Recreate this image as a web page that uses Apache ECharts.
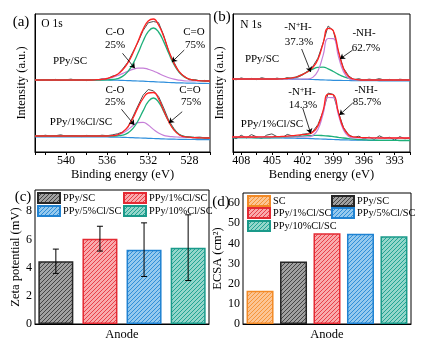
<!DOCTYPE html>
<html><head><meta charset="utf-8">
<script src="https://cdn.jsdelivr.net/npm/echarts@6/dist/echarts.min.js"></script>
<style>html,body{margin:0;padding:0;background:#fff}#c{width:422px;height:343px}</style>
</head><body><div id="c"></div>
<script>
const SERIF = 'Liberation Serif';

// ---------- Panel (a) O 1s ----------
const eV_a = [543,542.5,542,541.5,541,540.5,540,539.5,539,538.5,538,537.5,537,536.5,536,535.5,535,534.5,534,533.5,533,532.5,532,531.5,531,530.5,530,529.5,529,528.5,528,527.5,527,526.5,526];
const aTopData = [72.4,71.6,72.3,71.8,72.6,71.5,72.2,72.9,71.7,72.3,71.4,72.5,72.1,73.2,73.0,75.8,77.2,82.9,89.6,99.8,109.6,121.4,129.2,130.5,129.4,116.8,100.2,89.9,79.6,75.9,72.1,72.4,71.2,71.6,70.8];
const aTopFit  = [72,72,72,72,72,72,72,72,72,72,72,72,72.3,72.7,73.5,75.1,77.7,82,88.8,98.5,110.5,122.6,131,133,127,115.5,101,88.6,80.5,75.4,72.8,71.8,71.3,71,71];
const aTopCO   = [72,72,72,72,72,72,72,72,72,72,72,72,72.3,72.7,73.4,74.6,76.3,78.4,80.6,82.6,83.8,83.9,82.7,81,78.6,76.3,74.3,72.8,71.8,71.2,71,71,71,71,71];
const aTopCdO  = [72,72,72,72,72,72,72,72,72,72,72,72,72,72,72.1,72.5,73.4,75.6,80.2,87.9,98.7,110.7,120.3,124,120,110.4,98.4,87.5,79.7,75,72.8,71.8,71.3,71,71];
const aTopBase = [72,72,72,72,72,72,72,72,72,72,72,72,72,72,72,71.9,71.8,71.6,71.4,71.2,71,70.8,70.5,70.3,70,69.8,69.5,69.3,69.1,69,68.9,68.8,68.7,68.6,68.5];
const aBotData = [16.4,15.6,16.8,15.9,16.3,17.2,15.8,16.5,16.1,15.4,16.6,16.2,15.9,16.8,16.3,17.1,18.2,19.9,24.2,35.1,46.2,56.8,62.5,61.2,55.6,44.1,31.5,23.4,17.2,15.6,15.1,14.6,14.9,14.2,14.5];
const aBotFit  = [16,16,16,16,16,16,16,16,16,16,16,16,16,16,16,16.3,17.2,19.7,24.9,33.5,44.4,53.5,59,59.5,53.2,41.4,30.3,22,17.2,15.3,14.8,14.4,14.2,14,14];
const aBotCO   = [16,16,16,16,16,16,16,16,16,16,16,16,16,16,16,16.3,17,18.8,22,26.2,29.4,29.7,27,22.6,18.9,16.6,15.6,15.2,14.9,14.6,14.4,14.2,14.1,14,14];
const aBotCdO  = [16,16,16,16,16,16,16,16,16,16,16,16,16,16,16,16,16.2,16.9,18.9,23.3,31,41.1,50.3,54,50,40.6,30.5,22.5,17.8,15.6,14.8,14.4,14.2,14,14];
const aBotBase = [15,15,15,15,15,15,15,15,15,15,15,15,15,15,15,14.9,14.8,14.7,14.5,14.3,14.1,13.9,13.7,13.5,13.3,13.1,12.9,12.8,12.7,12.6,12.5,12.5,12.4,12.4,12.3];

// ---------- Panel (b) N 1s ----------
const eV_b = [409,408.5,408,407.5,407,406.5,406,405.5,405,404.5,404,403.5,403,402.5,402,401.5,401,400.5,400,399.5,399,398.5,398,397.5,397,396.5,396,395.5,395,394.5,394,393.5,393,392.5,392,391.5];
const bTopData = [73.5,72.2,74.1,72.8,73.6,72.4,74.3,73.1,72.6,73.9,72.8,74.4,73.2,74.6,77.1,80.9,85.6,93.8,108.9,126,121.4,100.3,83.9,76.2,72.4,73.3,71.8,72.9,72.1,73.4,71.9,72.6,71.5,72.8,72.2,71.6];
const bTopFit  = [73,73,73,73,73,73,73,73,73,73,73.2,73.5,74.2,75.5,77.6,80.3,84.5,92.5,108.2,123.7,121.3,101.2,83.3,75.4,73,72.2,72,72,72,72,72,72,72,72,72,72];
const bTopNH   = [73,73,73,73,73,73,73,73,73,73,73,73,73,73,73,73,74.6,80.9,96.4,113.5,113.3,95.8,80.2,73.8,72.3,72,72,72,72,72,72,72,72,72,72,72];
const bTopNpH  = [73,73,73,73,73,73,73,73,73,73,73.2,73.5,74.2,75.5,77.6,80.3,82.9,84.6,84.8,83.2,80.5,77.7,75.3,73.6,72.7,72.2,72,72,72,72,72,72,72,72,72,72];
const bTopBase = [73,73,73,73,73,73,73,73,73,73,73,73,72.9,72.8,72.7,72.6,72.5,72.3,72.1,71.9,71.7,71.6,71.5,71.5,71.4,71.4,71.3,71.3,71.3,71.2,71.2,71.2,71.2,71.1,71.1,71.1];
const bBotData = [15.5,13.2,16.8,14.1,17.4,15.2,13.6,16.9,18.1,15.4,14.2,17.6,16.1,15.3,17.8,18.4,20.5,27.4,40.3,58.9,57.6,39.8,24.6,17.3,14.6,15.8,13.1,14.9,12.6,16.2,13.8,14.7,11.9,15.4,13.2,14.1];
const bBotFit  = [15,15,15,15,15,15,15.1,15.1,15.2,15.4,15.6,15.9,16.3,16.8,17.3,17.8,19.7,26.1,41.1,57.8,57.2,39.6,23.9,17,15.1,14.6,14.4,14.2,14.1,14,14,14,14,14,14,14];
const bBotNH   = [15,15,15,15,15,15,15,15,15,15,15,15,15,15,15,15,16.5,22.6,37.6,54.5,54.3,37.2,22,15.6,14.1,14,14,14,14,14,14,14,14,14,14,14];
const bBotNpH  = [14.3,14.3,14.3,14.3,14.3,14.2,14.25,14.2,14.3,14.35,14.6,14.8,15.1,15.5,15.9,16.3,16.5,16.6,16.4,16,15.4,14.7,14,13.4,12.9,12.4,12.2,11.9,11.8,11.7,11.6,11.6,11.6,11.5,11.5,11.5];
const bBotBase = [14.3,14.3,14.3,14.3,14.3,14.2,14.2,14.1,14.1,14,14,13.9,13.8,13.7,13.6,13.5,13.3,13.1,12.9,12.7,12.5,12.3,12.1,12,11.9,11.8,11.8,11.7,11.7,11.7,11.6,11.6,11.6,11.5,11.5,11.5];

// ---------- Panel (c) Zeta potential ----------
const zetaCategory = ['Anode'];
const zetaNames = ['PPy/SC','PPy/1%Cl/SC','PPy/5%Cl/SC','PPy/10%Cl/SC'];
const zetaMean = [4.45, 6.05, 5.27, 5.41];
const zetaErr  = [0.86, 0.88, 1.9, 2.33];
const zetaTicks = [0,2,4,6,8];

// ---------- Panel (d) ECSA ----------
const ecsaCategory = ['Anode'];
const ecsaNames = ['SC','PPy/SC','PPy/1%Cl/SC','PPy/5%Cl/SC','PPy/10%Cl/SC'];
const ecsaVal = [16.5, 31, 45, 44.8, 43.5];
const ecsaTicks = [0,10,20,30,40,50,60];

const aTickLabels = [540,536,532,528];
const bTickLabels = [408,405,402,399,396,393];

// ---------- styles ----------
const C_DATA='#505050', C_FIT='#ff2222', C_GREEN='#1eb07a', C_PURPLE='#c67fd8', C_BLUE='#2f8fdc';
const BAR_STYLE = {
  'SC':          {bg:'#fcc594', fg:'#f5953a', bd:'#f28a26'},
  'PPy/SC':      {bg:'#a0a0a0', fg:'#444444', bd:'#262626'},
  'PPy/1%Cl/SC': {bg:'#f9aaac', fg:'#e8404a', bd:'#e42a33'},
  'PPy/5%Cl/SC': {bg:'#95c9ee', fg:'#2f8fd8', bd:'#1f82d2'},
  'PPy/10%Cl/SC':{bg:'#94d6ca', fg:'#22a494', bd:'#1a9a8a'}
};
function hatch(bg, fg){
  const c=document.createElement('canvas'); c.width=4; c.height=4;
  const g=c.getContext('2d'); g.fillStyle=bg; g.fillRect(0,0,4,4);
  g.fillStyle=fg;
  for(let x=0;x<4;x++){ g.fillRect(x,3-x,1,1); }
  return {image:c, repeat:'repeat'};
}
function pairs(xs, ys){ return xs.map((x,i)=>[x, ys[i]]); }
function line(ax, xs, ys, color, width, smooth, extra){
  return Object.assign({type:'line', xAxisIndex:ax, yAxisIndex:ax, data:pairs(xs,ys), showSymbol:false,
    smooth:smooth, lineStyle:{color:color, width:width}, itemStyle:{color:color}, silent:true, animation:false}, extra||{});
}
function arrows(list){
  return {silent:true, symbol:['none','arrow'], symbolSize:5, label:{show:false},
    lineStyle:{color:'#000', width:0.8, type:'solid'}, animation:false,
    data:list.map(p=>[{coord:p[0]},{coord:p[1]}])};
}
const labelFmt = (arr)=> (v)=> arr.some(t=>Math.abs(t-v)<1e-6) ? String(v) : '';
const axTxt = {fontFamily:SERIF, fontSize:12, color:'#000'};
const nameTxt = {fontFamily:SERIF, fontSize:12.5, color:'#000'};
const blackLine = {lineStyle:{color:'#000', width:1}};

const series = [];
// a
series.push(line(0, eV_a, aTopData, C_DATA, 1, false, {markLine: arrows([[[534.5,98.7],[533.3,83.7]],[[528.5,102],[529.7,90]]])}));
series.push(line(0, eV_a, aTopBase, C_BLUE, 1.2, true));
series.push(line(0, eV_a, aTopCO, C_PURPLE, 1.2, true));
series.push(line(0, eV_a, aTopCdO, C_GREEN, 1.3, true));
series.push(line(0, eV_a, aTopFit, C_FIT, 1.3, true));
series.push(line(0, eV_a, aBotData, C_DATA, 1, false, {markLine: arrows([[[534.6,42.7],[533.35,27]],[[528.7,40.3],[530.0,29]]])}));
series.push(line(0, eV_a, aBotBase, C_BLUE, 1.2, true));
series.push(line(0, eV_a, aBotCO, C_PURPLE, 1.2, true));
series.push(line(0, eV_a, aBotCdO, C_GREEN, 1.3, true));
series.push(line(0, eV_a, aBotFit, C_FIT, 1.3, true));
// b
series.push(line(1, eV_b, bTopData, C_DATA, 1, false, {markLine: arrows([[[402.09,103],[401.2,80]],[[397.1,102],[398.35,93]]])}));
series.push(line(1, eV_b, bTopBase, C_BLUE, 1.2, true));
series.push(line(1, eV_b, bTopNpH, C_GREEN, 1.3, true));
series.push(line(1, eV_b, bTopNH, C_PURPLE, 1.2, true));
series.push(line(1, eV_b, bTopFit, C_FIT, 1.3, true));
series.push(line(1, eV_b, bBotData, C_DATA, 1, false, {markLine: arrows([[[401.99,44],[401.2,18.5]],[[397.1,49],[398.4,37]]])}));
series.push(line(1, eV_b, bBotBase, C_BLUE, 1.2, true));
series.push(line(1, eV_b, bBotNpH, C_GREEN, 1.3, true));
series.push(line(1, eV_b, bBotNH, C_PURPLE, 1.2, true));
series.push(line(1, eV_b, bBotFit, C_FIT, 1.3, true));

// c bars
const C_BW = 35, C_GAP = 0.26;
zetaNames.forEach((n,i)=>{
  const s = BAR_STYLE[n];
  series.push({type:'bar', name:n, xAxisIndex:2, yAxisIndex:2, data:[zetaMean[i]], barWidth:C_BW, barGap:(C_GAP*100)+'%',
    itemStyle:{color:hatch(s.bg,s.fg), borderColor:s.bd, borderWidth:1.5}, silent:true, animation:false});
});
series.push({type:'custom', xAxisIndex:2, yAxisIndex:2, silent:true, animation:false, z:10,
  encode:{x:0, y:[1,2]},
  data: zetaMean.map((m,i)=>[0, m-zetaErr[i], m+zetaErr[i], i]),
  renderItem:(params, api)=>{
    const i = api.value(3);
    const lo = api.coord([0, api.value(1)]), hi = api.coord([0, api.value(2)]);
    const x = lo[0] + (i-1.5)*(C_BW*(1+C_GAP));
    const st = {stroke:'#000', lineWidth:1};
    return {type:'group', children:[
      {type:'line', shape:{x1:x,y1:lo[1],x2:x,y2:hi[1]}, style:st},
      {type:'line', shape:{x1:x-3,y1:lo[1],x2:x+3,y2:lo[1]}, style:st},
      {type:'line', shape:{x1:x-3,y1:hi[1],x2:x+3,y2:hi[1]}, style:st}
    ]};
  }});
// d bars
ecsaNames.forEach((n,i)=>{
  const s = BAR_STYLE[n];
  series.push({type:'bar', name:n, xAxisIndex:3, yAxisIndex:3, data:[ecsaVal[i]], barWidth:27, barGap:'24%',
    itemStyle:{color:hatch(s.bg,s.fg), borderColor:s.bd, borderWidth:1.5}, silent:true, animation:false});
});

function legend(name, left, top){
  return {data:[name], left:left, top:top, padding:0, itemWidth:22, itemHeight:10, icon:'rect', selectedMode:false,
    itemGap:0, textStyle:{fontFamily:SERIF, fontSize:10.3, color:'#000', padding:[0,0,0,-2]}};
}

const txt = (t, x, y, size, extra)=>({type:'text', x:x, y:y, silent:true,
  style:Object.assign({text:t, fontFamily:SERIF, fontSize:size||11, fill:'#000', align:'center', verticalAlign:'middle'}, extra||{})});
const supRich = {rich:{s:{fontSize:7.5, fontFamily:SERIF, verticalAlign:'top', lineHeight:8}}};

const option = {
  animation:false,
  grid:[
    {left:35, top:14, width:175, height:138, show:true, borderColor:'#000', borderWidth:1},
    {left:233, top:14, width:177, height:138, show:true, borderColor:'#000', borderWidth:1},
    {left:35, top:190, width:174, height:134, show:true, borderColor:'#000', borderWidth:1},
    {left:243, top:193, width:168, height:131, show:true, borderColor:'#000', borderWidth:1}
  ],
  xAxis:[
    {gridIndex:0, type:'value', inverse:true, min:526, max:543, interval:2, axisLine:blackLine,
     axisTick:{length:3, lineStyle:{color:'#000'}}, splitLine:{show:false},
     axisLabel:Object.assign({margin:3, formatter:labelFmt(aTickLabels)}, axTxt),
     name:'Binding energy (eV)', nameLocation:'middle', nameGap:14, nameTextStyle:nameTxt},
    {gridIndex:1, type:'value', inverse:true, min:391.5, max:408.8, interval:1.5, axisLine:blackLine,
     axisTick:{length:3, lineStyle:{color:'#000'}}, splitLine:{show:false},
     axisLabel:Object.assign({margin:3, formatter:labelFmt(bTickLabels)}, axTxt),
     name:'Bending energy (eV)', nameLocation:'middle', nameGap:14, nameTextStyle:nameTxt},
    {gridIndex:2, type:'category', data:zetaCategory, axisLine:blackLine, axisTick:{show:false},
     axisLabel:Object.assign({margin:4}, nameTxt)},
    {gridIndex:3, type:'category', data:ecsaCategory, axisLine:blackLine, axisTick:{show:false},
     axisLabel:Object.assign({margin:4}, nameTxt)}
  ],
  yAxis:[
    {gridIndex:0, type:'value', min:0, max:138, axisLine:blackLine, axisTick:{show:false}, axisLabel:{show:false}, splitLine:{show:false},
     name:'Intensity (a.u.)', nameLocation:'middle', nameGap:7, nameTextStyle:nameTxt},
    {gridIndex:1, type:'value', min:0, max:138, axisLine:blackLine, axisTick:{show:false}, axisLabel:{show:false}, splitLine:{show:false},
     name:'Intensity (a.u.)', nameLocation:'middle', nameGap:7, nameTextStyle:nameTxt},
    {gridIndex:2, type:'value', min:0, max:9.5, interval:2, axisLine:blackLine, axisTick:{length:3, lineStyle:{color:'#000'}}, splitLine:{show:false},
     axisLabel:Object.assign({margin:3, formatter:labelFmt(zetaTicks)}, axTxt),
     name:'Zeta potential (mV)', nameLocation:'middle', nameGap:9, nameTextStyle:nameTxt},
    {gridIndex:3, type:'value', min:0, max:65, interval:10, axisLine:blackLine, axisTick:{length:3, lineStyle:{color:'#000'}}, splitLine:{show:false},
     axisLabel:Object.assign({margin:3, formatter:labelFmt(ecsaTicks)}, axTxt),
     name:'ECSA (cm²)', nameLocation:'middle', nameGap:12, nameTextStyle:nameTxt}
  ],
  legend:[
    legend('PPy/SC', 37, 192), legend('PPy/1%Cl/SC', 123, 192),
    legend('PPy/5%Cl/SC', 37, 205), legend('PPy/10%Cl/SC', 123, 205),
    legend('SC', 247, 195), legend('PPy/SC', 331, 195),
    legend('PPy/1%Cl/SC', 247, 207), legend('PPy/5%Cl/SC', 331, 207),
    legend('PPy/10%Cl/SC', 247, 220)
  ],
  graphic:[
    txt('(a)', 21, 22, 15), txt('(b)', 222, 17, 15), txt('(c)', 23, 197, 15), txt('(d)', 221, 202, 15),
    txt('O 1s', 52, 24, 11.5), txt('C-O', 115, 32), txt('25%', 115, 45), txt('C=O', 194, 32), txt('75%', 195, 45),
    txt('PPy/SC', 70, 61), txt('C-O', 115, 90), txt('25%', 115, 102), txt('C=O', 190, 90), txt('75%', 191, 102),
    txt('PPy/1%Cl/SC', 81, 122),
    txt('N 1s', 251, 25, 11.5), txt('-N{s|+}H-', 298, 27, 11, supRich), txt('37.3%', 299, 42), txt('-NH-', 364, 33), txt('62.7%', 366, 48),
    txt('PPy/SC', 262, 59),
    txt('-N{s|+}H-', 302, 92, 11, supRich), txt('14.3%', 303, 105), txt('-NH-', 366, 90), txt('85.7%', 367, 102),
    txt('PPy/1%Cl/SC', 272, 124)
  ],
  series:series
};
const chart = echarts.init(document.getElementById('c'), null, {renderer:'canvas'});
chart.setOption(option);
</script></body></html>
